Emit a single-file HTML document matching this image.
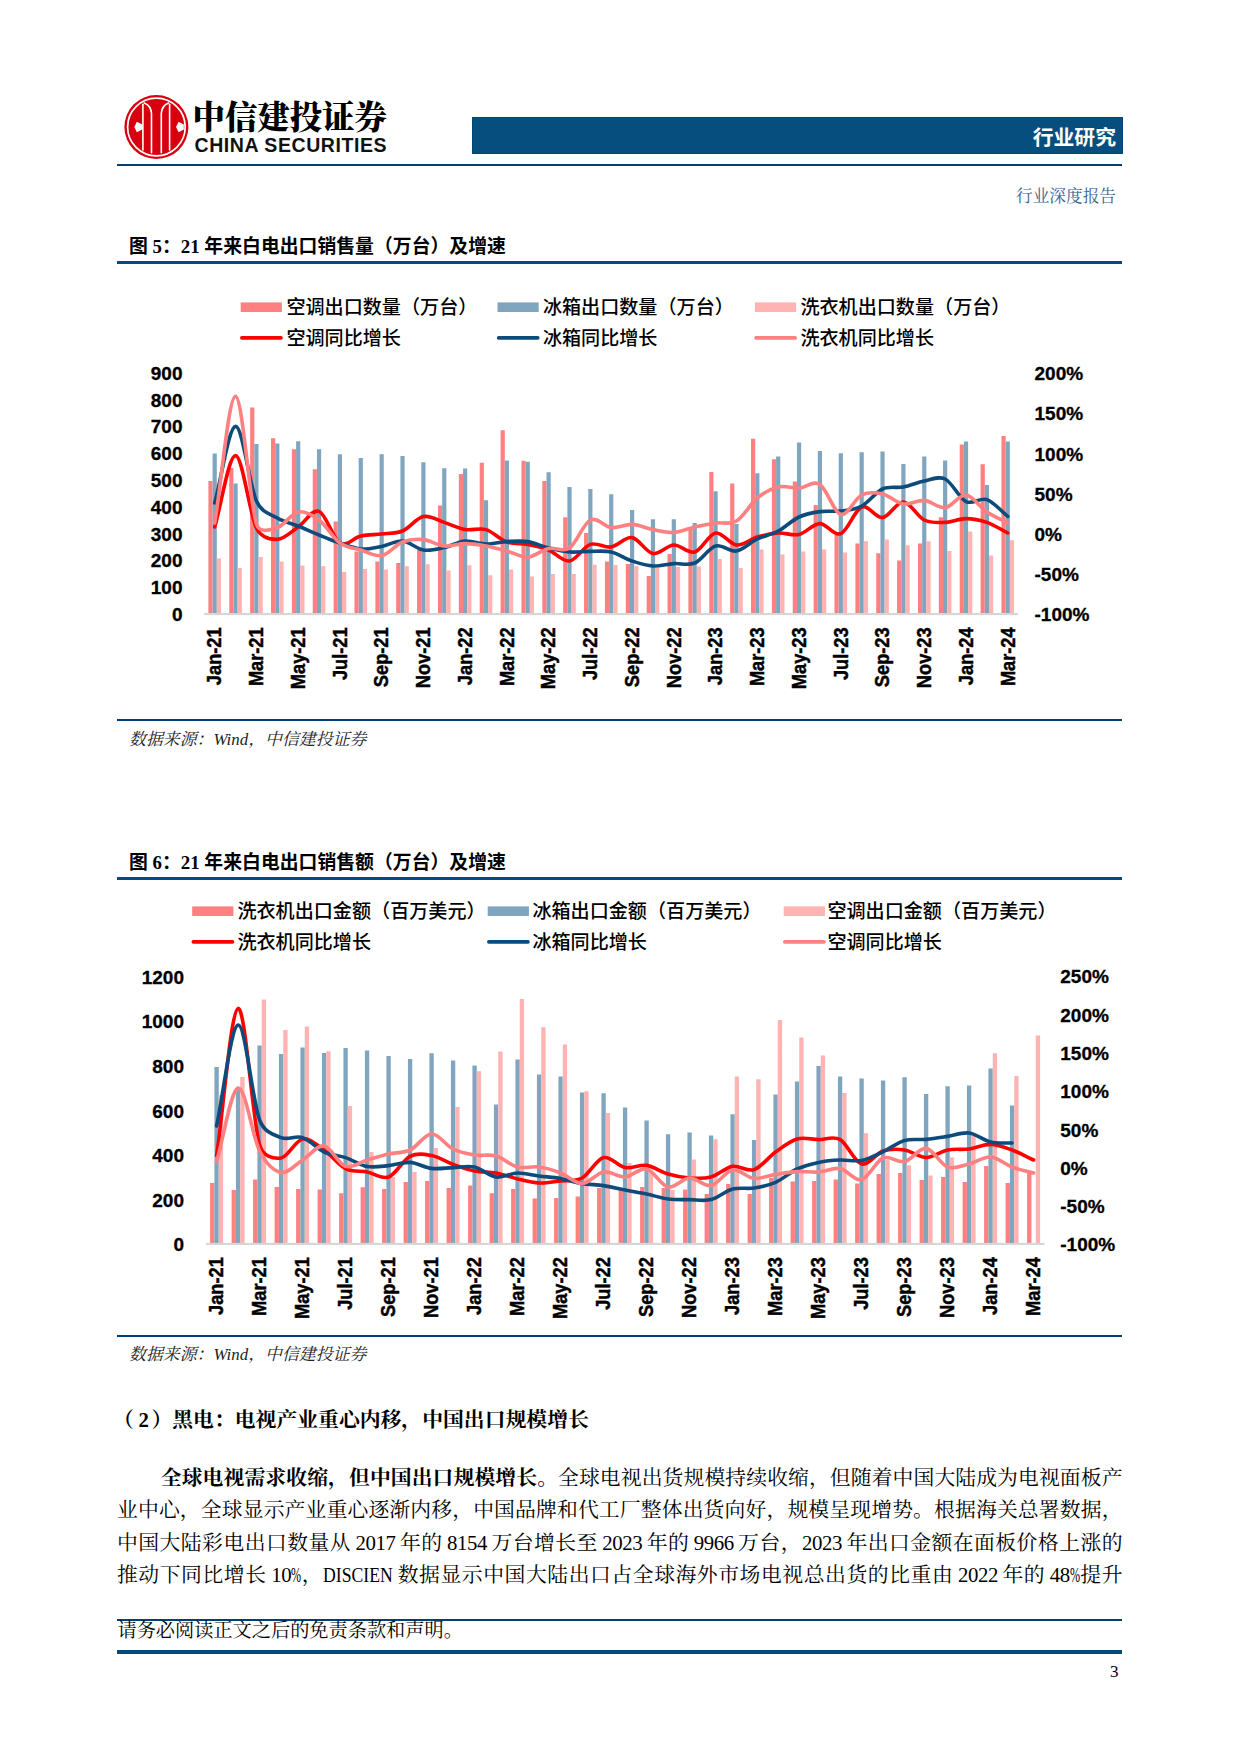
<!DOCTYPE html>
<html lang="zh-CN">
<head>
<meta charset="utf-8">
<title>行业研究</title>
<style>
html,body{margin:0;padding:0;background:#fff;}
body{width:1240px;height:1754px;position:relative;overflow:hidden;font-family:"Liberation Serif","Noto Serif CJK SC",serif;color:#000;}
.abs{position:absolute;white-space:nowrap;}
.hl{position:absolute;left:116.9px;width:1005.5px;background:#023F72;}
svg{position:absolute;left:0;top:0;}
svg text.ax{font-family:"Liberation Sans",sans-serif;font-weight:700;font-size:19px;fill:#000;stroke:#000;stroke-width:0.3px;}
svg text.axr{font-size:19.5px;stroke-width:0.45px;}
svg text.lg{font-family:"Liberation Sans","Noto Sans CJK SC",sans-serif;font-weight:500;font-size:19.1px;fill:#000;}
.cn1{font-family:"Liberation Serif","Noto Serif CJK SC",serif;font-weight:900;font-size:32.4px;line-height:32px;letter-spacing:0px;}
.en1{font-family:"Liberation Sans",sans-serif;font-size:19.5px;line-height:20px;font-weight:700;letter-spacing:0.57px;color:#111;}
.banner{position:absolute;left:471.5px;top:117px;width:651px;height:37px;background:#064E7D;box-shadow:inset 0 0 0 1px #03457A;}
.btxt{font-family:"Liberation Sans","Noto Sans CJK SC",sans-serif;font-weight:700;font-size:20.83px;line-height:24px;color:#fff;}
.sub{font-family:"Liberation Serif","Noto Serif CJK SC",serif;font-size:16.67px;line-height:20px;color:#38638F;}
.ftitle{font-family:"Liberation Serif","Noto Sans CJK SC",sans-serif;font-weight:700;font-size:18.85px;line-height:22px;}
.src{font-family:"Liberation Serif","Noto Serif CJK SC",serif;font-style:italic;font-size:16.9px;line-height:20px;color:#222;}
.h2{font-family:"Liberation Serif","Noto Serif CJK SC",serif;font-weight:700;font-size:20.83px;line-height:26px;}
.p{position:absolute;left:117px;width:1005.5px;font-size:20.83px;line-height:28px;height:28px;text-align:justify;text-align-last:justify;white-space:nowrap;overflow:visible;word-spacing:-1.2px;}
.p .l{letter-spacing:-0.42px;}
.p .sq{display:inline-block;transform-origin:0 50%;letter-spacing:0;}
.p .pc{width:10px;}
.p .pc>i{display:inline-block;font-style:normal;transform:scaleX(.58);transform-origin:0 50%;}
.p .dw{width:70px;}
.p .dw>i{display:inline-block;font-style:normal;transform:scaleX(.85);transform-origin:0 50%;}
.p b{font-weight:700;}
.foot{font-size:19.2px;line-height:22px;}
</style>
</head>
<body>
<!-- logo -->
<svg width="1240" height="1754" viewBox="0 0 1240 1754">
<g id="logo">
<circle cx="156.4" cy="127" r="32" fill="#D7000F"/>
<circle cx="156.4" cy="127" r="28.8" fill="none" stroke="#fff" stroke-width="1.7"/>
<g fill="none" stroke="#fff" stroke-width="1.6" stroke-linecap="round">
<path d="M142.9,104.2V150"/><path d="M169.6,104.2V150"/>
<path d="M151.5,152.8V113.5C151.2,108.5 148,104.5 144.3,103"/>
<path d="M161.3,152.8V113.5C161.6,108.5 164.8,104.5 168.5,103"/>
</g>
<path d="M134.3,127l2.6,-5.2l5.2,2.6v5.2l-5.2,2.6z" fill="#fff"/>
<path d="M176,127l2.6,-5.2l5.2,2.6v5.2l-5.2,2.6z" fill="#fff"/>
</g>
<path d="M208.40,613.00h4.20v-132.00h-4.20zM229.27,613.00h4.20v-145.00h-4.20zM250.14,613.00h4.20v-205.40h-4.20zM271.01,613.00h4.20v-174.80h-4.20zM291.88,613.00h4.20v-163.80h-4.20zM312.75,613.00h4.20v-143.80h-4.20zM333.62,613.00h4.20v-91.40h-4.20zM354.49,613.00h4.20v-61.60h-4.20zM375.36,613.00h4.20v-51.40h-4.20zM396.23,613.00h4.20v-50.00h-4.20zM417.10,613.00h4.20v-63.00h-4.20zM437.97,613.00h4.20v-107.60h-4.20zM458.84,613.00h4.20v-139.00h-4.20zM479.71,613.00h4.20v-150.20h-4.20zM500.58,613.00h4.20v-182.80h-4.20zM521.45,613.00h4.20v-152.20h-4.20zM542.32,613.00h4.20v-132.00h-4.20zM563.19,613.00h4.20v-95.80h-4.20zM584.06,613.00h4.20v-80.00h-4.20zM604.93,613.00h4.20v-51.40h-4.20zM625.80,613.00h4.20v-49.00h-4.20zM646.67,613.00h4.20v-37.00h-4.20zM667.54,613.00h4.20v-59.00h-4.20zM688.41,613.00h4.20v-84.00h-4.20zM709.28,613.00h4.20v-141.00h-4.20zM730.15,613.00h4.20v-129.40h-4.20zM751.02,613.00h4.20v-174.20h-4.20zM771.89,613.00h4.20v-153.80h-4.20zM792.76,613.00h4.20v-131.40h-4.20zM813.63,613.00h4.20v-108.00h-4.20zM834.50,613.00h4.20v-78.00h-4.20zM855.37,613.00h4.20v-69.60h-4.20zM876.24,613.00h4.20v-59.80h-4.20zM897.11,613.00h4.20v-52.40h-4.20zM917.98,613.00h4.20v-69.40h-4.20zM938.85,613.00h4.20v-95.80h-4.20zM959.72,613.00h4.20v-168.60h-4.20zM980.59,613.00h4.20v-148.80h-4.20zM1001.46,613.00h4.20v-177.00h-4.20z" fill="#FF8080"/>
<path d="M212.60,613.00h4.20v-159.40h-4.20zM233.47,613.00h4.20v-129.60h-4.20zM254.34,613.00h4.20v-169.00h-4.20zM275.21,613.00h4.20v-169.40h-4.20zM296.08,613.00h4.20v-171.80h-4.20zM316.95,613.00h4.20v-163.80h-4.20zM337.82,613.00h4.20v-158.80h-4.20zM358.69,613.00h4.20v-155.00h-4.20zM379.56,613.00h4.20v-158.80h-4.20zM400.43,613.00h4.20v-157.00h-4.20zM421.30,613.00h4.20v-150.80h-4.20zM442.17,613.00h4.20v-144.80h-4.20zM463.04,613.00h4.20v-144.60h-4.20zM483.91,613.00h4.20v-112.80h-4.20zM504.78,613.00h4.20v-152.60h-4.20zM525.65,613.00h4.20v-151.20h-4.20zM546.52,613.00h4.20v-140.80h-4.20zM567.39,613.00h4.20v-126.00h-4.20zM588.26,613.00h4.20v-124.00h-4.20zM609.13,613.00h4.20v-118.80h-4.20zM630.00,613.00h4.20v-103.00h-4.20zM650.87,613.00h4.20v-93.80h-4.20zM671.74,613.00h4.20v-93.80h-4.20zM692.61,613.00h4.20v-90.00h-4.20zM713.48,613.00h4.20v-121.80h-4.20zM734.35,613.00h4.20v-89.00h-4.20zM755.22,613.00h4.20v-139.80h-4.20zM776.09,613.00h4.20v-156.60h-4.20zM796.96,613.00h4.20v-170.40h-4.20zM817.83,613.00h4.20v-162.00h-4.20zM838.70,613.00h4.20v-159.80h-4.20zM859.57,613.00h4.20v-160.80h-4.20zM880.44,613.00h4.20v-161.60h-4.20zM901.31,613.00h4.20v-149.00h-4.20zM922.18,613.00h4.20v-156.60h-4.20zM943.05,613.00h4.20v-152.40h-4.20zM963.92,613.00h4.20v-171.40h-4.20zM984.79,613.00h4.20v-128.00h-4.20zM1005.66,613.00h4.20v-171.60h-4.20z" fill="#80A6BF"/>
<path d="M216.80,613.00h4.20v-54.40h-4.20zM237.67,613.00h4.20v-45.00h-4.20zM258.54,613.00h4.20v-56.00h-4.20zM279.41,613.00h4.20v-51.40h-4.20zM300.28,613.00h4.20v-47.40h-4.20zM321.15,613.00h4.20v-46.80h-4.20zM342.02,613.00h4.20v-41.00h-4.20zM362.89,613.00h4.20v-44.00h-4.20zM383.76,613.00h4.20v-43.40h-4.20zM404.63,613.00h4.20v-46.80h-4.20zM425.50,613.00h4.20v-48.80h-4.20zM446.37,613.00h4.20v-42.40h-4.20zM467.24,613.00h4.20v-47.80h-4.20zM488.11,613.00h4.20v-37.80h-4.20zM508.98,613.00h4.20v-43.40h-4.20zM529.85,613.00h4.20v-36.40h-4.20zM550.72,613.00h4.20v-39.00h-4.20zM571.59,613.00h4.20v-39.00h-4.20zM592.46,613.00h4.20v-48.20h-4.20zM613.33,613.00h4.20v-48.00h-4.20zM634.20,613.00h4.20v-47.00h-4.20zM655.07,613.00h4.20v-45.00h-4.20zM675.94,613.00h4.20v-46.00h-4.20zM696.81,613.00h4.20v-46.60h-4.20zM717.68,613.00h4.20v-54.00h-4.20zM738.55,613.00h4.20v-45.00h-4.20zM759.42,613.00h4.20v-63.60h-4.20zM780.29,613.00h4.20v-58.40h-4.20zM801.16,613.00h4.20v-61.60h-4.20zM822.03,613.00h4.20v-63.40h-4.20zM842.90,613.00h4.20v-60.60h-4.20zM863.77,613.00h4.20v-71.80h-4.20zM884.64,613.00h4.20v-73.40h-4.20zM905.51,613.00h4.20v-67.80h-4.20zM926.38,613.00h4.20v-71.80h-4.20zM947.25,613.00h4.20v-62.00h-4.20zM968.12,613.00h4.20v-81.60h-4.20zM988.99,613.00h4.20v-57.40h-4.20zM1009.86,613.00h4.20v-72.80h-4.20z" fill="#FFB3B3"/>
<rect x="204.2" y="613.0" width="813.8" height="2.1" fill="#D5D7D7"/>
<path d="M214.7,527.0C221.7,503.2 228.6,455.4 235.6,455.6C242.5,455.8 249.5,514.0 256.4,528.0C261.7,538.6 270.4,539.6 277.3,539.4C284.3,539.2 291.2,531.7 298.2,527.0C305.1,522.3 312.1,508.7 319.1,511.4C326.0,514.1 333.0,538.9 339.9,543.0C346.9,547.1 353.8,537.5 360.8,536.0C367.7,534.5 374.7,534.8 381.7,534.0C388.6,533.2 395.6,533.9 402.5,531.0C409.5,528.1 416.4,518.0 423.4,516.6C430.4,515.2 437.3,520.2 444.3,522.4C451.2,524.6 458.2,528.4 465.1,529.6C472.1,530.8 479.1,527.5 486.0,529.6C493.0,531.7 499.9,539.5 506.9,542.0C513.8,544.5 520.8,543.1 527.8,544.4C534.7,545.7 541.7,547.2 548.6,550.0C555.6,552.8 562.5,561.9 569.5,561.0C576.4,560.1 583.4,546.7 590.4,544.4C597.3,542.1 604.3,548.1 611.2,547.0C618.2,545.9 625.1,536.5 632.1,537.6C639.1,538.7 646.0,552.4 653.0,553.6C659.9,554.8 666.9,545.3 673.8,545.0C680.8,544.7 687.8,554.0 694.7,552.0C701.7,550.0 708.6,534.2 715.6,533.0C722.5,531.8 729.5,544.3 736.5,545.0C743.4,545.7 750.4,539.0 757.3,537.0C764.3,535.0 771.2,533.4 778.2,533.0C785.1,532.6 792.1,536.0 799.1,534.4C806.0,532.8 813.0,523.7 819.9,523.6C826.9,523.5 833.8,536.4 840.8,533.6C847.8,530.8 854.7,509.7 861.7,507.0C868.6,504.3 875.6,518.4 882.5,517.6C889.5,516.8 896.5,501.6 903.4,502.0C910.4,502.4 917.3,516.6 924.3,520.0C931.2,523.4 938.2,522.6 945.2,522.4C952.1,522.2 959.1,518.6 966.0,518.6C973.0,518.6 979.9,520.0 986.9,522.4C993.8,524.8 1000.8,529.5 1007.8,533.0" fill="none" stroke="#FF0000" stroke-width="3.6" stroke-linecap="round" stroke-linejoin="round"/>
<path d="M214.7,503.0C221.7,477.5 228.6,426.7 235.6,426.4C242.5,426.1 249.5,485.7 256.4,501.0C262.0,513.2 270.4,513.8 277.3,518.0C284.3,522.2 291.2,523.2 298.2,526.0C305.1,528.8 312.1,532.2 319.1,535.0C326.0,537.8 333.0,540.7 339.9,543.0C346.9,545.3 353.8,548.4 360.8,549.0C367.7,549.6 374.7,547.7 381.7,546.4C388.6,545.1 395.6,540.4 402.5,541.0C409.5,541.6 416.4,548.9 423.4,550.0C430.4,551.1 437.3,549.1 444.3,547.6C451.2,546.1 458.2,541.6 465.1,541.0C472.1,540.4 479.1,543.9 486.0,544.0C493.0,544.1 499.9,542.0 506.9,541.6C513.8,541.2 520.8,540.5 527.8,541.6C534.7,542.7 541.7,546.3 548.6,548.0C555.6,549.7 562.5,551.4 569.5,552.0C576.4,552.6 583.4,551.4 590.4,551.4C597.3,551.4 604.3,550.4 611.2,552.0C618.2,553.6 625.1,558.7 632.1,561.0C639.1,563.3 646.0,565.6 653.0,566.0C659.9,566.4 666.9,564.1 673.8,563.6C680.8,563.1 687.8,565.9 694.7,563.0C701.7,560.1 708.6,548.0 715.6,546.0C722.5,544.0 729.5,552.2 736.5,551.0C743.4,549.8 750.4,542.3 757.3,539.0C764.3,535.7 771.2,534.7 778.2,531.0C785.1,527.3 792.1,520.2 799.1,517.0C806.0,513.8 813.0,512.6 819.9,511.6C826.9,510.6 833.8,511.9 840.8,511.0C847.8,510.1 854.7,509.7 861.7,506.0C868.6,502.3 875.6,492.2 882.5,489.0C889.5,485.8 896.5,488.3 903.4,487.0C910.4,485.7 917.3,482.3 924.3,481.0C931.2,479.7 938.2,475.6 945.2,479.0C952.1,482.4 959.1,498.2 966.0,501.6C973.0,505.0 979.9,497.1 986.9,499.6C993.8,502.1 1000.8,510.8 1007.8,516.4" fill="none" stroke="#0D4B7C" stroke-width="3.6" stroke-linecap="round" stroke-linejoin="round"/>
<path d="M214.7,523.0C221.7,480.8 228.6,396.2 235.6,396.4C242.5,396.6 249.5,502.1 256.4,524.0C259.7,534.1 270.4,529.6 277.3,527.6C284.3,525.6 291.2,513.3 298.2,512.0C305.1,510.7 312.1,514.8 319.1,520.0C326.0,525.2 333.0,538.0 339.9,543.0C346.9,548.0 353.8,547.9 360.8,550.0C367.7,552.1 374.7,556.9 381.7,555.6C388.6,554.3 395.6,544.7 402.5,542.0C409.5,539.3 416.4,538.9 423.4,539.6C430.4,540.3 437.3,545.3 444.3,546.0C451.2,546.7 458.2,543.6 465.1,543.6C472.1,543.6 479.1,544.8 486.0,546.0C493.0,547.2 499.9,549.2 506.9,551.0C513.8,552.8 520.8,557.4 527.8,557.0C534.7,556.6 541.7,549.9 548.6,548.4C555.6,546.9 562.5,552.7 569.5,548.0C576.4,543.3 583.4,523.4 590.4,520.0C597.3,516.6 604.3,526.9 611.2,527.6C618.2,528.3 625.1,524.1 632.1,524.4C639.1,524.7 646.0,528.3 653.0,529.6C659.9,530.9 666.9,532.8 673.8,532.4C680.8,532.0 687.8,528.6 694.7,527.0C701.7,525.4 708.6,524.0 715.6,523.0C722.5,522.0 729.5,525.2 736.5,521.0C743.4,516.8 750.4,503.7 757.3,498.0C764.3,492.3 771.2,488.7 778.2,487.0C785.1,485.3 792.1,488.4 799.1,488.0C806.0,487.6 813.0,480.0 819.9,484.4C826.9,488.8 833.8,512.6 840.8,514.4C847.8,516.2 854.7,498.4 861.7,495.0C868.6,491.6 875.6,492.5 882.5,494.0C889.5,495.5 896.5,502.9 903.4,504.0C910.4,505.1 917.3,499.8 924.3,500.4C931.2,501.0 938.2,508.5 945.2,507.6C952.1,506.7 959.1,494.3 966.0,495.0C973.0,495.7 979.9,507.3 986.9,512.0C993.8,516.7 1000.8,519.3 1007.8,523.0" fill="none" stroke="#FF8080" stroke-width="3.6" stroke-linecap="round" stroke-linejoin="round"/>
<text transform="translate(221.4,627.4) rotate(-90) scale(.935,1)" text-anchor="end" class="ax axr">Jan-21</text>
<text transform="translate(263.1,627.4) rotate(-90) scale(.935,1)" text-anchor="end" class="ax axr">Mar-21</text>
<text transform="translate(304.9,627.4) rotate(-90) scale(.935,1)" text-anchor="end" class="ax axr">May-21</text>
<text transform="translate(346.6,627.4) rotate(-90) scale(.935,1)" text-anchor="end" class="ax axr">Jul-21</text>
<text transform="translate(388.4,627.4) rotate(-90) scale(.935,1)" text-anchor="end" class="ax axr">Sep-21</text>
<text transform="translate(430.1,627.4) rotate(-90) scale(.935,1)" text-anchor="end" class="ax axr">Nov-21</text>
<text transform="translate(471.8,627.4) rotate(-90) scale(.935,1)" text-anchor="end" class="ax axr">Jan-22</text>
<text transform="translate(513.6,627.4) rotate(-90) scale(.935,1)" text-anchor="end" class="ax axr">Mar-22</text>
<text transform="translate(555.3,627.4) rotate(-90) scale(.935,1)" text-anchor="end" class="ax axr">May-22</text>
<text transform="translate(597.1,627.4) rotate(-90) scale(.935,1)" text-anchor="end" class="ax axr">Jul-22</text>
<text transform="translate(638.8,627.4) rotate(-90) scale(.935,1)" text-anchor="end" class="ax axr">Sep-22</text>
<text transform="translate(680.5,627.4) rotate(-90) scale(.935,1)" text-anchor="end" class="ax axr">Nov-22</text>
<text transform="translate(722.3,627.4) rotate(-90) scale(.935,1)" text-anchor="end" class="ax axr">Jan-23</text>
<text transform="translate(764.0,627.4) rotate(-90) scale(.935,1)" text-anchor="end" class="ax axr">Mar-23</text>
<text transform="translate(805.8,627.4) rotate(-90) scale(.935,1)" text-anchor="end" class="ax axr">May-23</text>
<text transform="translate(847.5,627.4) rotate(-90) scale(.935,1)" text-anchor="end" class="ax axr">Jul-23</text>
<text transform="translate(889.2,627.4) rotate(-90) scale(.935,1)" text-anchor="end" class="ax axr">Sep-23</text>
<text transform="translate(931.0,627.4) rotate(-90) scale(.935,1)" text-anchor="end" class="ax axr">Nov-23</text>
<text transform="translate(972.7,627.4) rotate(-90) scale(.935,1)" text-anchor="end" class="ax axr">Jan-24</text>
<text transform="translate(1014.5,627.4) rotate(-90) scale(.935,1)" text-anchor="end" class="ax axr">Mar-24</text>
<text x="182.5" y="620.9" text-anchor="end" class="ax">0</text>
<text x="182.5" y="594.1" text-anchor="end" class="ax">100</text>
<text x="182.5" y="567.3" text-anchor="end" class="ax">200</text>
<text x="182.5" y="540.6" text-anchor="end" class="ax">300</text>
<text x="182.5" y="513.8" text-anchor="end" class="ax">400</text>
<text x="182.5" y="487.0" text-anchor="end" class="ax">500</text>
<text x="182.5" y="460.2" text-anchor="end" class="ax">600</text>
<text x="182.5" y="433.4" text-anchor="end" class="ax">700</text>
<text x="182.5" y="406.7" text-anchor="end" class="ax">800</text>
<text x="182.5" y="379.9" text-anchor="end" class="ax">900</text>
<text x="1034.5" y="620.8" class="ax">-100%</text>
<text x="1034.5" y="580.7" class="ax">-50%</text>
<text x="1034.5" y="540.7" class="ax">0%</text>
<text x="1034.5" y="500.6" class="ax">50%</text>
<text x="1034.5" y="460.5" class="ax">100%</text>
<text x="1034.5" y="420.4" class="ax">150%</text>
<text x="1034.5" y="380.4" class="ax">200%</text>
<path d="M210.10,1242.90h4.33v-59.90h-4.33zM231.60,1242.90h4.33v-52.90h-4.33zM253.10,1242.90h4.33v-63.30h-4.33zM274.60,1242.90h4.33v-55.90h-4.33zM296.10,1242.90h4.33v-53.90h-4.33zM317.60,1242.90h4.33v-53.50h-4.33zM339.10,1242.90h4.33v-49.70h-4.33zM360.60,1242.90h4.33v-55.70h-4.33zM382.10,1242.90h4.33v-53.90h-4.33zM403.60,1242.90h4.33v-60.90h-4.33zM425.10,1242.90h4.33v-61.90h-4.33zM446.60,1242.90h4.33v-54.90h-4.33zM468.10,1242.90h4.33v-57.30h-4.33zM489.60,1242.90h4.33v-49.70h-4.33zM511.10,1242.90h4.33v-53.90h-4.33zM532.60,1242.90h4.33v-44.50h-4.33zM554.10,1242.90h4.33v-44.90h-4.33zM575.60,1242.90h4.33v-46.30h-4.33zM597.10,1242.90h4.33v-54.90h-4.33zM618.60,1242.90h4.33v-52.90h-4.33zM640.10,1242.90h4.33v-55.90h-4.33zM661.60,1242.90h4.33v-54.90h-4.33zM683.10,1242.90h4.33v-53.50h-4.33zM704.60,1242.90h4.33v-48.90h-4.33zM726.10,1242.90h4.33v-58.90h-4.33zM747.60,1242.90h4.33v-48.90h-4.33zM769.10,1242.90h4.33v-64.90h-4.33zM790.60,1242.90h4.33v-61.50h-4.33zM812.10,1242.90h4.33v-61.90h-4.33zM833.60,1242.90h4.33v-63.50h-4.33zM855.10,1242.90h4.33v-59.30h-4.33zM876.60,1242.90h4.33v-68.90h-4.33zM898.10,1242.90h4.33v-69.90h-4.33zM919.60,1242.90h4.33v-62.90h-4.33zM941.10,1242.90h4.33v-65.90h-4.33zM962.60,1242.90h4.33v-60.90h-4.33zM984.10,1242.90h4.33v-76.90h-4.33zM1005.60,1242.90h4.33v-59.90h-4.33zM1027.10,1242.90h4.33v-69.90h-4.33z" fill="#FF8080"/>
<path d="M214.43,1242.90h4.33v-175.90h-4.33zM235.93,1242.90h4.33v-152.90h-4.33zM257.43,1242.90h4.33v-197.50h-4.33zM278.93,1242.90h4.33v-188.90h-4.33zM300.43,1242.90h4.33v-195.30h-4.33zM321.93,1242.90h4.33v-189.90h-4.33zM343.43,1242.90h4.33v-194.90h-4.33zM364.93,1242.90h4.33v-192.50h-4.33zM386.43,1242.90h4.33v-186.90h-4.33zM407.93,1242.90h4.33v-183.90h-4.33zM429.43,1242.90h4.33v-189.70h-4.33zM450.93,1242.90h4.33v-182.50h-4.33zM472.43,1242.90h4.33v-177.30h-4.33zM493.93,1242.90h4.33v-138.30h-4.33zM515.43,1242.90h4.33v-183.30h-4.33zM536.93,1242.90h4.33v-168.50h-4.33zM558.43,1242.90h4.33v-166.50h-4.33zM579.93,1242.90h4.33v-150.50h-4.33zM601.43,1242.90h4.33v-149.70h-4.33zM622.93,1242.90h4.33v-135.30h-4.33zM644.43,1242.90h4.33v-122.50h-4.33zM665.93,1242.90h4.33v-108.70h-4.33zM687.43,1242.90h4.33v-110.30h-4.33zM708.93,1242.90h4.33v-107.50h-4.33zM730.43,1242.90h4.33v-128.70h-4.33zM751.93,1242.90h4.33v-102.90h-4.33zM773.43,1242.90h4.33v-148.30h-4.33zM794.93,1242.90h4.33v-161.50h-4.33zM816.43,1242.90h4.33v-176.90h-4.33zM837.93,1242.90h4.33v-166.50h-4.33zM859.43,1242.90h4.33v-164.30h-4.33zM880.93,1242.90h4.33v-162.30h-4.33zM902.43,1242.90h4.33v-165.70h-4.33zM923.93,1242.90h4.33v-148.90h-4.33zM945.43,1242.90h4.33v-156.70h-4.33zM966.93,1242.90h4.33v-157.50h-4.33zM988.43,1242.90h4.33v-174.50h-4.33zM1009.93,1242.90h4.33v-137.30h-4.33z" fill="#80A6BF"/>
<path d="M218.76,1242.90h4.33v-147.90h-4.33zM240.26,1242.90h4.33v-165.90h-4.33zM261.76,1242.90h4.33v-243.50h-4.33zM283.26,1242.90h4.33v-212.90h-4.33zM304.76,1242.90h4.33v-216.50h-4.33zM326.26,1242.90h4.33v-191.70h-4.33zM347.76,1242.90h4.33v-136.90h-4.33zM369.26,1242.90h4.33v-90.90h-4.33zM390.76,1242.90h4.33v-65.90h-4.33zM412.26,1242.90h4.33v-70.90h-4.33zM433.76,1242.90h4.33v-94.90h-4.33zM455.26,1242.90h4.33v-135.90h-4.33zM476.76,1242.90h4.33v-171.70h-4.33zM498.26,1242.90h4.33v-191.50h-4.33zM519.76,1242.90h4.33v-243.90h-4.33zM541.26,1242.90h4.33v-215.70h-4.33zM562.76,1242.90h4.33v-198.30h-4.33zM584.26,1242.90h4.33v-151.70h-4.33zM605.76,1242.90h4.33v-129.90h-4.33zM627.26,1242.90h4.33v-79.90h-4.33zM648.76,1242.90h4.33v-71.90h-4.33zM670.26,1242.90h4.33v-52.90h-4.33zM691.76,1242.90h4.33v-83.30h-4.33zM713.26,1242.90h4.33v-103.70h-4.33zM734.76,1242.90h4.33v-166.50h-4.33zM756.26,1242.90h4.33v-163.70h-4.33zM777.76,1242.90h4.33v-222.90h-4.33zM799.26,1242.90h4.33v-205.50h-4.33zM820.76,1242.90h4.33v-187.30h-4.33zM842.26,1242.90h4.33v-149.90h-4.33zM863.76,1242.90h4.33v-109.70h-4.33zM885.26,1242.90h4.33v-82.90h-4.33zM906.76,1242.90h4.33v-77.70h-4.33zM928.26,1242.90h4.33v-67.30h-4.33zM949.76,1242.90h4.33v-85.30h-4.33zM971.26,1242.90h4.33v-106.90h-4.33zM992.76,1242.90h4.33v-189.70h-4.33zM1014.26,1242.90h4.33v-166.90h-4.33zM1035.76,1242.90h4.33v-207.30h-4.33z" fill="#FFB3B3"/>
<rect x="206.1" y="1242.9" width="838.4" height="2.1" fill="#D5D7D7"/>
<path d="M216.6,1155.6C223.8,1106.5 230.9,1010.2 238.1,1008.4C245.3,1006.6 252.4,1120.1 259.6,1145.0C263.1,1157.1 273.9,1159.0 281.1,1158.0C288.3,1157.0 295.4,1140.3 302.6,1139.0C309.8,1137.7 316.9,1145.1 324.1,1150.0C331.3,1154.9 338.4,1164.9 345.6,1168.6C352.8,1172.3 359.9,1170.6 367.1,1172.0C374.3,1173.4 381.4,1179.6 388.6,1177.0C395.8,1174.4 402.9,1160.0 410.1,1156.4C417.3,1152.8 424.4,1154.3 431.6,1155.6C438.8,1156.9 445.9,1161.8 453.1,1164.4C460.3,1167.0 467.4,1169.6 474.6,1171.0C481.8,1172.4 488.9,1171.7 496.1,1173.0C503.3,1174.3 510.4,1177.3 517.6,1179.0C524.8,1180.7 531.9,1182.7 539.1,1183.0C546.3,1183.3 553.4,1181.8 560.6,1181.0C567.8,1180.2 574.9,1181.9 582.1,1178.0C589.3,1174.1 596.4,1159.3 603.6,1157.6C610.8,1155.9 617.9,1166.3 625.1,1167.6C632.3,1168.9 639.4,1164.3 646.6,1165.4C653.8,1166.5 660.9,1171.9 668.1,1174.0C675.3,1176.1 682.4,1177.5 689.6,1178.0C696.8,1178.5 703.9,1178.9 711.1,1177.0C718.3,1175.1 725.4,1167.6 732.6,1166.4C739.8,1165.2 746.9,1172.0 754.1,1169.6C761.3,1167.2 768.4,1157.1 775.6,1152.0C782.8,1146.9 789.9,1141.1 797.1,1139.0C804.3,1136.9 811.4,1139.5 818.6,1139.6C825.8,1139.7 832.9,1135.5 840.1,1139.6C847.3,1143.7 854.4,1162.1 861.6,1164.0C868.8,1165.9 875.9,1153.3 883.1,1151.0C890.3,1148.7 897.4,1148.9 904.6,1150.0C911.8,1151.1 918.9,1157.6 926.1,1157.6C933.3,1157.6 940.4,1151.4 947.6,1150.0C954.8,1148.6 961.9,1149.9 969.1,1149.0C976.3,1148.1 983.4,1144.2 990.6,1144.4C997.8,1144.6 1004.9,1147.4 1012.1,1150.0C1019.3,1152.6 1026.4,1156.7 1033.6,1160.0" fill="none" stroke="#FF0000" stroke-width="3.6" stroke-linecap="round" stroke-linejoin="round"/>
<path d="M216.6,1126.0C223.8,1092.3 230.9,1026.0 238.1,1025.0C245.3,1024.0 252.4,1101.2 259.6,1120.0C264.6,1133.0 273.9,1134.7 281.1,1137.6C288.3,1140.5 295.4,1135.2 302.6,1137.6C309.8,1140.0 316.9,1148.7 324.1,1152.0C331.3,1155.3 338.4,1155.2 345.6,1157.6C352.8,1160.0 359.9,1165.1 367.1,1166.4C374.3,1167.7 381.4,1166.3 388.6,1165.6C395.8,1164.9 402.9,1161.9 410.1,1162.4C417.3,1162.9 424.4,1167.5 431.6,1168.4C438.8,1169.3 445.9,1167.8 453.1,1167.6C460.3,1167.4 467.4,1165.4 474.6,1167.0C481.8,1168.6 488.9,1176.0 496.1,1177.0C503.3,1178.0 510.4,1173.2 517.6,1173.0C524.8,1172.8 531.9,1175.1 539.1,1176.0C546.3,1176.9 553.4,1177.1 560.6,1178.4C567.8,1179.7 574.9,1182.4 582.1,1183.6C589.3,1184.8 596.4,1184.5 603.6,1185.6C610.8,1186.7 617.9,1188.6 625.1,1190.0C632.3,1191.4 639.4,1192.5 646.6,1194.0C653.8,1195.5 660.9,1198.1 668.1,1199.0C675.3,1199.9 682.4,1199.5 689.6,1199.6C696.8,1199.7 703.9,1201.4 711.1,1199.6C718.3,1197.8 725.4,1190.9 732.6,1189.0C739.8,1187.1 746.9,1189.1 754.1,1188.0C761.3,1186.9 768.4,1185.6 775.6,1182.4C782.8,1179.2 789.9,1172.3 797.1,1169.0C804.3,1165.7 811.4,1163.9 818.6,1162.4C825.8,1160.9 832.9,1160.3 840.1,1160.0C847.3,1159.7 854.4,1161.8 861.6,1160.4C868.8,1159.0 875.9,1154.9 883.1,1151.6C890.3,1148.3 897.4,1142.4 904.6,1140.4C911.8,1138.4 918.9,1140.1 926.1,1139.4C933.3,1138.7 940.4,1137.5 947.6,1136.4C954.8,1135.3 961.9,1132.1 969.1,1133.0C976.3,1133.9 983.4,1140.3 990.6,1142.0C997.8,1143.7 1004.9,1142.7 1012.1,1143.0" fill="none" stroke="#0D4B7C" stroke-width="3.6" stroke-linecap="round" stroke-linejoin="round"/>
<path d="M216.6,1161.6C223.8,1137.1 230.9,1089.8 238.1,1088.0C245.3,1086.2 252.4,1136.9 259.6,1151.0C266.5,1164.5 273.9,1170.9 281.1,1172.4C288.3,1173.9 295.4,1164.4 302.6,1160.0C309.8,1155.6 316.9,1144.9 324.1,1146.0C331.3,1147.1 338.4,1164.1 345.6,1166.4C352.8,1168.7 359.9,1162.1 367.1,1160.0C374.3,1157.9 381.4,1155.7 388.6,1154.0C395.8,1152.3 402.9,1153.3 410.1,1150.0C417.3,1146.7 424.4,1134.2 431.6,1134.0C438.8,1133.8 445.9,1145.5 453.1,1149.0C460.3,1152.5 467.4,1153.8 474.6,1155.0C481.8,1156.2 488.9,1154.0 496.1,1156.0C503.3,1158.0 510.4,1165.2 517.6,1167.0C524.8,1168.8 531.9,1166.0 539.1,1167.0C546.3,1168.0 553.4,1170.2 560.6,1173.0C567.8,1175.8 574.9,1183.8 582.1,1183.6C589.3,1183.4 596.4,1173.1 603.6,1172.0C610.8,1170.9 617.9,1177.5 625.1,1177.0C632.3,1176.5 639.4,1167.3 646.6,1169.0C653.8,1170.7 660.9,1185.5 668.1,1187.0C675.3,1188.5 682.4,1178.2 689.6,1178.0C696.8,1177.8 703.9,1186.9 711.1,1185.6C718.3,1184.3 725.4,1171.2 732.6,1170.0C739.8,1168.8 746.9,1177.7 754.1,1178.4C761.3,1179.1 768.4,1175.5 775.6,1174.4C782.8,1173.3 789.9,1172.0 797.1,1171.6C804.3,1171.2 811.4,1172.5 818.6,1172.0C825.8,1171.5 832.9,1167.3 840.1,1168.6C847.3,1169.9 854.4,1181.4 861.6,1179.6C868.8,1177.8 875.9,1161.0 883.1,1158.0C890.3,1155.0 897.4,1163.2 904.6,1161.6C911.8,1160.0 918.9,1147.5 926.1,1148.4C933.3,1149.3 940.4,1164.4 947.6,1167.0C954.8,1169.6 961.9,1165.7 969.1,1164.0C976.3,1162.3 983.4,1156.5 990.6,1157.0C997.8,1157.5 1004.9,1164.3 1012.1,1167.0C1019.3,1169.7 1026.4,1171.0 1033.6,1173.0" fill="none" stroke="#FF8080" stroke-width="3.6" stroke-linecap="round" stroke-linejoin="round"/>
<text transform="translate(223.3,1257.2) rotate(-90) scale(.935,1)" text-anchor="end" class="ax axr">Jan-21</text>
<text transform="translate(266.3,1257.2) rotate(-90) scale(.935,1)" text-anchor="end" class="ax axr">Mar-21</text>
<text transform="translate(309.3,1257.2) rotate(-90) scale(.935,1)" text-anchor="end" class="ax axr">May-21</text>
<text transform="translate(352.3,1257.2) rotate(-90) scale(.935,1)" text-anchor="end" class="ax axr">Jul-21</text>
<text transform="translate(395.3,1257.2) rotate(-90) scale(.935,1)" text-anchor="end" class="ax axr">Sep-21</text>
<text transform="translate(438.3,1257.2) rotate(-90) scale(.935,1)" text-anchor="end" class="ax axr">Nov-21</text>
<text transform="translate(481.3,1257.2) rotate(-90) scale(.935,1)" text-anchor="end" class="ax axr">Jan-22</text>
<text transform="translate(524.3,1257.2) rotate(-90) scale(.935,1)" text-anchor="end" class="ax axr">Mar-22</text>
<text transform="translate(567.3,1257.2) rotate(-90) scale(.935,1)" text-anchor="end" class="ax axr">May-22</text>
<text transform="translate(610.3,1257.2) rotate(-90) scale(.935,1)" text-anchor="end" class="ax axr">Jul-22</text>
<text transform="translate(653.3,1257.2) rotate(-90) scale(.935,1)" text-anchor="end" class="ax axr">Sep-22</text>
<text transform="translate(696.3,1257.2) rotate(-90) scale(.935,1)" text-anchor="end" class="ax axr">Nov-22</text>
<text transform="translate(739.3,1257.2) rotate(-90) scale(.935,1)" text-anchor="end" class="ax axr">Jan-23</text>
<text transform="translate(782.3,1257.2) rotate(-90) scale(.935,1)" text-anchor="end" class="ax axr">Mar-23</text>
<text transform="translate(825.3,1257.2) rotate(-90) scale(.935,1)" text-anchor="end" class="ax axr">May-23</text>
<text transform="translate(868.3,1257.2) rotate(-90) scale(.935,1)" text-anchor="end" class="ax axr">Jul-23</text>
<text transform="translate(911.3,1257.2) rotate(-90) scale(.935,1)" text-anchor="end" class="ax axr">Sep-23</text>
<text transform="translate(954.3,1257.2) rotate(-90) scale(.935,1)" text-anchor="end" class="ax axr">Nov-23</text>
<text transform="translate(997.3,1257.2) rotate(-90) scale(.935,1)" text-anchor="end" class="ax axr">Jan-24</text>
<text transform="translate(1040.3,1257.2) rotate(-90) scale(.935,1)" text-anchor="end" class="ax axr">Mar-24</text>
<text x="184" y="1251.2" text-anchor="end" class="ax">0</text>
<text x="184" y="1206.6" text-anchor="end" class="ax">200</text>
<text x="184" y="1162.1" text-anchor="end" class="ax">400</text>
<text x="184" y="1117.5" text-anchor="end" class="ax">600</text>
<text x="184" y="1072.9" text-anchor="end" class="ax">800</text>
<text x="184" y="1028.4" text-anchor="end" class="ax">1000</text>
<text x="184" y="983.8" text-anchor="end" class="ax">1200</text>
<text x="1060.3" y="1251.4" class="ax">-100%</text>
<text x="1060.3" y="1213.1" class="ax">-50%</text>
<text x="1060.3" y="1174.8" class="ax">0%</text>
<text x="1060.3" y="1136.5" class="ax">50%</text>
<text x="1060.3" y="1098.2" class="ax">100%</text>
<text x="1060.3" y="1059.9" class="ax">150%</text>
<text x="1060.3" y="1021.6" class="ax">200%</text>
<text x="1060.3" y="983.3" class="ax">250%</text>
<rect x="240.7" y="302.4" width="41.2" height="9.6" fill="#FF8080"/>
<text x="286.4" y="314.0" class="lg">空调出口数量（万台）</text>
<line x1="241.8" y1="337.9" x2="281.0" y2="337.9" stroke="#FF0000" stroke-width="3.6" stroke-linecap="round"/>
<text x="286.4" y="344.6" class="lg">空调同比增长</text>
<rect x="497.5" y="302.4" width="41.2" height="9.6" fill="#80A6BF"/>
<text x="542.9" y="314.0" class="lg">冰箱出口数量（万台）</text>
<line x1="498.6" y1="337.9" x2="537.8" y2="337.9" stroke="#0D4B7C" stroke-width="3.6" stroke-linecap="round"/>
<text x="542.9" y="344.6" class="lg">冰箱同比增长</text>
<rect x="754.9" y="302.4" width="41.2" height="9.6" fill="#FFB3B3"/>
<text x="800.4" y="314.0" class="lg">洗衣机出口数量（万台）</text>
<line x1="756.0" y1="337.9" x2="795.2" y2="337.9" stroke="#FF8080" stroke-width="3.6" stroke-linecap="round"/>
<text x="800.4" y="344.6" class="lg">洗衣机同比增长</text>
<rect x="192.2" y="906.4" width="41.2" height="9.6" fill="#FF8080"/>
<text x="237.4" y="918.0" class="lg">洗衣机出口金额（百万美元）</text>
<line x1="193.3" y1="941.9" x2="232.5" y2="941.9" stroke="#FF0000" stroke-width="3.6" stroke-linecap="round"/>
<text x="237.4" y="948.6" class="lg">洗衣机同比增长</text>
<rect x="487.7" y="906.4" width="41.2" height="9.6" fill="#80A6BF"/>
<text x="532.4" y="918.0" class="lg">冰箱出口金额（百万美元）</text>
<line x1="488.8" y1="941.9" x2="528.0" y2="941.9" stroke="#0D4B7C" stroke-width="3.6" stroke-linecap="round"/>
<text x="532.4" y="948.6" class="lg">冰箱同比增长</text>
<rect x="783.7" y="906.4" width="41.2" height="9.6" fill="#FFB3B3"/>
<text x="827.4" y="918.0" class="lg">空调出口金额（百万美元）</text>
<line x1="784.8" y1="941.9" x2="824.0" y2="941.9" stroke="#FF8080" stroke-width="3.6" stroke-linecap="round"/>
<text x="827.4" y="948.6" class="lg">空调同比增长</text>
</svg>
<div class="abs cn1" style="left:192.5px;top:102px;">中信建投证券</div>
<div class="abs en1" id="en1" style="left:194.5px;top:134.8px;">CHINA SECURITIES</div>
<div class="banner"></div>
<div class="abs btxt" style="right:124px;top:125.5px;">行业研究</div>
<div class="hl" style="top:164.2px;height:2px;"></div>
<div class="abs sub" style="right:124px;top:187px;">行业深度报告</div>

<div class="abs ftitle" style="left:129px;top:235.5px;">图 5：21 年来白电出口销售量（万台）及增速</div>
<div class="hl" style="top:261px;height:3px;background:#044A7B"></div>
<div class="hl" style="top:719px;height:2px;"></div>
<div class="abs src" style="left:129px;top:729.5px;">数据来源：Wind，中信建投证券</div>

<div class="abs ftitle" style="left:129px;top:851.5px;">图 6：21 年来白电出口销售额（万台）及增速</div>
<div class="hl" style="top:877px;height:3px;background:#044A7B"></div>
<div class="hl" style="top:1335px;height:2px;"></div>
<div class="abs src" style="left:129px;top:1345px;">数据来源：Wind，中信建投证券</div>

<div class="abs h2" style="left:113px;top:1407px;">（<span style="padding:0 2.6px 0 4.6px">2</span>）黑电：电视产业重心内移，中国出口规模增长</div>

<div class="p" style="top:1463.5px;left:160.8px;width:961.7px;"><b>全球电视需求收缩，但中国出口规模增长。</b>全球电视出货规模持续收缩，但随着中国大陆成为电视面板产</div>
<div class="p" style="top:1496px;">业中心，全球显示产业重心逐渐内移，中国品牌和代工厂整体出货向好，规模呈现增势。根据海关总署数据，</div>
<div class="p" style="top:1528.5px;">中国大陆彩电出口数量从 <span class="l">2017</span> 年的 <span class="l">8154</span> 万台增长至 <span class="l">2023</span> 年的 <span class="l">9966</span> 万台，<span class="l">2023</span> 年出口金额在面板价格上涨的</div>
<div class="p" style="top:1561px;">推动下同比增长 <span class="l">10</span><span class="sq pc"><i>%</i></span>，<span class="sq dw"><i>DISCIEN</i></span> 数据显示中国大陆出口占全球海外市场电视总出货的比重由 <span class="l">2022</span> 年的 <span class="l">48</span><span class="sq pc"><i>%</i></span>提升</div>

<div class="hl" style="top:1619px;height:2px;"></div>
<div class="abs foot" style="left:117.5px;top:1619.5px;">请务必阅读正文之后的免责条款和声明。</div>
<div class="hl" style="top:1650px;height:4px;background:#044A7B"></div>
<div class="abs" style="right:121.5px;top:1662px;font-size:17px;line-height:20px;">3</div>
</body>
</html>
